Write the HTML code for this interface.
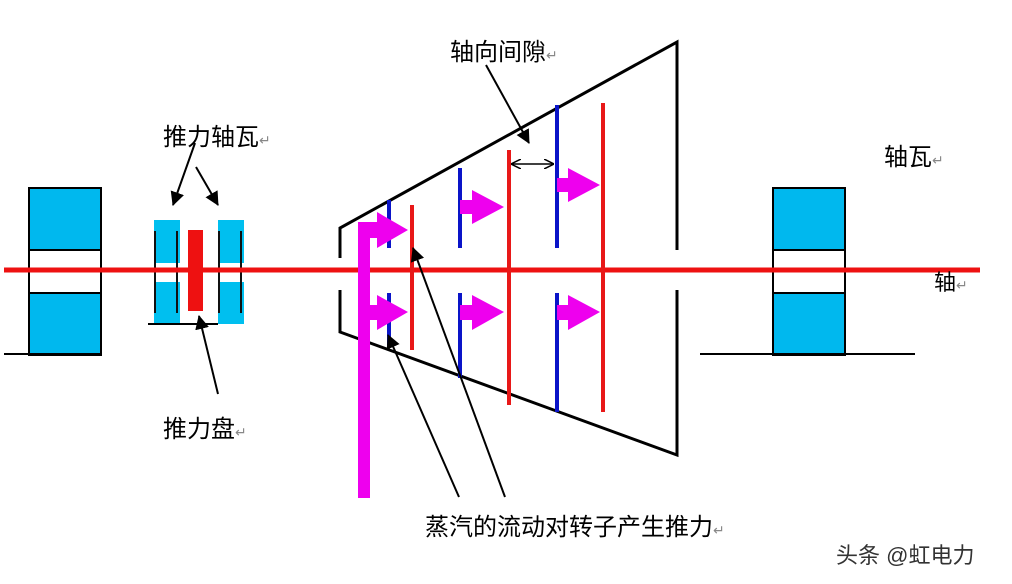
<!DOCTYPE html>
<html><head><meta charset="utf-8"><style>
html,body{margin:0;padding:0;background:#fff;}
svg{display:block;}
text{font-family:"Liberation Sans","Noto Sans CJK SC",sans-serif;}
</style></head><body>
<svg width="1012" height="584" viewBox="0 0 1012 584" xmlns="http://www.w3.org/2000/svg">
<defs>
<marker id="ah2" markerWidth="14" markerHeight="14" refX="13" refY="7" orient="auto" markerUnits="userSpaceOnUse"><path d="M0,0 L14,7 L0,14 z" fill="#000"/></marker>
<marker id="oa" markerWidth="10" markerHeight="10" refX="9" refY="5" orient="auto-start-reverse" markerUnits="userSpaceOnUse"><path d="M0,0 L10,5 L0,10" fill="none" stroke="#000" stroke-width="1.5"/></marker>
</defs>
<rect x="29" y="188" width="72" height="167" fill="#00b8ee" stroke="#000" stroke-width="2"/>
<rect x="29" y="250" width="72" height="43" fill="#fff" stroke="#000" stroke-width="2"/>
<line x1="4" y1="354" x2="101" y2="354" stroke="#000" stroke-width="2"/>
<rect x="773" y="188" width="72" height="167" fill="#00b8ee" stroke="#000" stroke-width="2"/>
<rect x="773" y="250" width="72" height="43" fill="#fff" stroke="#000" stroke-width="2"/>
<line x1="700" y1="354" x2="915" y2="354" stroke="#000" stroke-width="2"/>
<rect x="154" y="220" width="26" height="104" fill="#00bfef"/>
<rect x="218" y="220" width="26" height="104" fill="#00bfef"/>
<rect x="154" y="263" width="26" height="19" fill="#fff"/>
<rect x="218" y="263" width="26" height="19" fill="#fff"/>
<line x1="155" y1="231" x2="155" y2="313" stroke="#111" stroke-width="2"/>
<line x1="177" y1="231" x2="177" y2="313" stroke="#111" stroke-width="2"/>
<line x1="219" y1="231" x2="219" y2="313" stroke="#111" stroke-width="2"/>
<line x1="241" y1="231" x2="241" y2="313" stroke="#111" stroke-width="2"/>
<line x1="148" y1="324" x2="218" y2="324" stroke="#000" stroke-width="2"/>
<line x1="4" y1="270" x2="980" y2="270" stroke="#ee1111" stroke-width="5"/>
<rect x="188" y="230" width="15" height="81" fill="#ee1111"/>
<polyline points="340,258 340,228 677,42 677,250" fill="none" stroke="#000" stroke-width="3"/>
<polyline points="340,290 340,332 677,455 677,290" fill="none" stroke="#000" stroke-width="3"/>
<g stroke-width="4">
<line x1="389" y1="200" x2="389" y2="248" stroke="#0a14c8"/>
<line x1="389" y1="293" x2="389" y2="345" stroke="#0a14c8"/>
<line x1="460" y1="168" x2="460" y2="248" stroke="#0a14c8"/>
<line x1="460" y1="293" x2="460" y2="378" stroke="#0a14c8"/>
<line x1="557" y1="105" x2="557" y2="248" stroke="#0a14c8"/>
<line x1="557" y1="293" x2="557" y2="412" stroke="#0a14c8"/>
<line x1="412" y1="205" x2="412" y2="350" stroke="#e81818"/>
<line x1="509" y1="150" x2="509" y2="405" stroke="#e81818"/>
<line x1="603" y1="103" x2="603" y2="412" stroke="#e81818"/>
</g>
<g fill="#ee00ee">
<rect x="358" y="222" width="12" height="276"/>
<path d="M358,222 L377,222 L377,212 L408,230 L377,248 L377,238 L358,238 z"/>
<path d="M368,305 L377,305 L377,295 L408,312 L377,330 L377,320 L368,320 z"/>
<path d="M460,200 L472,200 L472,190 L504,207 L472,224 L472,214 L460,214 z"/>
<path d="M460,305 L472,305 L472,295 L504,312 L472,330 L472,320 L460,320 z"/>
<path d="M557,178 L568,178 L568,168 L600,185 L568,202 L568,192 L557,192 z"/>
<path d="M557,305 L568,305 L568,295 L600,312 L568,330 L568,320 L557,320 z"/>
</g>
<line x1="512" y1="164" x2="553" y2="164" stroke="#000" stroke-width="1.5" marker-end="url(#oa)" marker-start="url(#oa)"/>
<g stroke="#000" stroke-width="2" fill="none">
<line x1="195" y1="143" x2="173" y2="205" marker-end="url(#ah2)"/>
<line x1="196" y1="167" x2="218" y2="205" marker-end="url(#ah2)"/>
<line x1="218" y1="394" x2="199" y2="316" marker-end="url(#ah2)"/>
<line x1="486" y1="65" x2="529" y2="143" marker-end="url(#ah2)"/>
<line x1="459" y1="497" x2="388" y2="335" marker-end="url(#ah2)"/>
<line x1="505" y1="497" x2="413" y2="248" marker-end="url(#ah2)"/>
</g>
<g font-size="24" fill="#000">
<text x="163" y="145">推力轴瓦<tspan font-size="14" fill="#888">↵</tspan></text>
<text x="163" y="437">推力盘<tspan font-size="14" fill="#888">↵</tspan></text>
<text x="450" y="60">轴向间隙<tspan font-size="14" fill="#888">↵</tspan></text>
<text x="884" y="165">轴瓦<tspan font-size="14" fill="#888">↵</tspan></text>
<text x="934" y="290" font-size="22">轴<tspan font-size="14" fill="#888">↵</tspan></text>
<text x="425" y="535">蒸汽的流动对转子产生推力<tspan font-size="14" fill="#888">↵</tspan></text>
</g>
<text x="836" y="563" font-size="22" fill="#333">头条 @虹电力</text>
</svg>
</body></html>
